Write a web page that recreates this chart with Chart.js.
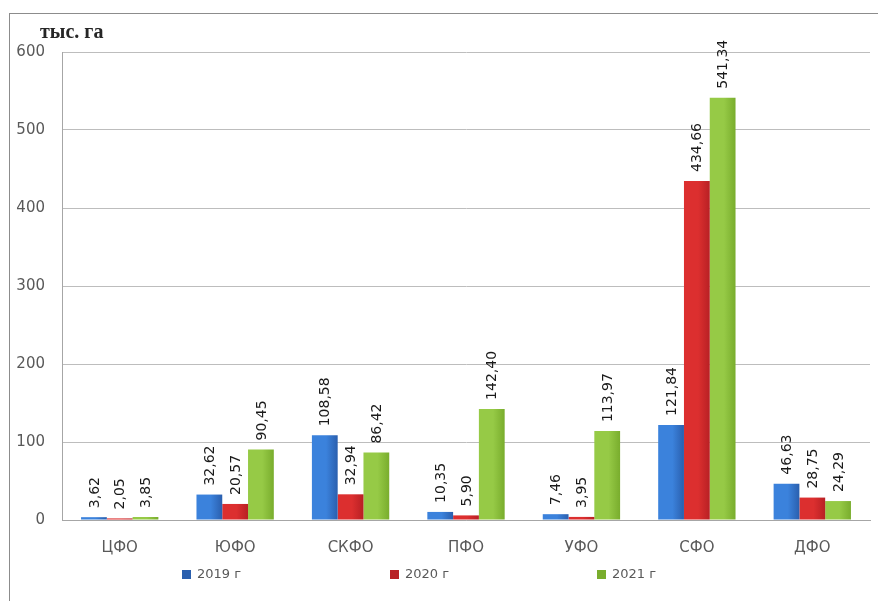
<!DOCTYPE html>
<html lang="ru">
<head>
<meta charset="utf-8">
<title>Площадь, тыс. га</title>
<script src="https://cdn.jsdelivr.net/npm/chart.js@4.4.1/dist/chart.umd.min.js"></script>
<style>
  html, body { margin: 0; padding: 0; background: #fff; overflow: hidden; }
  .frame {
    position: absolute; left: 9px; top: 13px;
    width: 869px; height: 588px;
    border-left: 1px solid #8c8c8c; border-top: 1px solid #8c8c8c;
  }
  .box { position: relative; width: 868px; height: 587px; }
</style>
</head>
<body>
<div class="frame"><div class="box"><canvas id="chart"></canvas></div></div>
<script>
// federal districts and yearly values, thousand hectares
const regions = ['ЦФО', 'ЮФО', 'СКФО', 'ПФО', 'УФО', 'СФО', 'ДФО'];
const years = ['2019 г', '2020 г', '2021 г'];
const area2019 = [3.62, 32.62, 108.58, 10.35, 7.46, 121.84, 46.63];
const area2020 = [2.05, 20.57, 32.94, 5.90, 3.95, 434.66, 28.75];
const area2021 = [3.85, 90.45, 86.42, 142.40, 113.97, 541.34, 24.29];
const yMax = 600;
const yStep = 100;
const unitLabel = 'тыс. га';

// [light edge, dark edge] for each year
const BAR_SHADES = [
  ['#3b82dc', '#2a5fae'],
  ['#dc2f2f', '#b82024'],
  ['#96ca46', '#79ad2d']
];
const TEXT = '#595959';
const CAT_PCT = 0.67;

const fmt = v => v.toFixed(2).replace('.', ',');

// horizontal gradient across each bar, computed from the category scale
function barFill(ctx) {
  const chart = ctx.chart;
  const x = chart.scales.x;
  const shades = BAR_SHADES[ctx.datasetIndex];
  if (!x || !chart.chartArea) return shades[0];
  const catW = (x.right - x.left) / regions.length;
  const barW = catW * CAT_PCT / years.length;
  const center = x.getPixelForValue(ctx.dataIndex);
  const left = center - catW * CAT_PCT / 2 + ctx.datasetIndex * barW;
  const g = chart.ctx.createLinearGradient(left, 0, left + barW, 0);
  g.addColorStop(0, shades[0]);
  g.addColorStop(0.55, shades[0]);
  g.addColorStop(1, shades[1]);
  return g;
}

const valueLabels = {
  id: 'valueLabels',
  afterDatasetsDraw(chart) {
    const c = chart.ctx;
    c.save();
    c.font = '14px "DejaVu Sans", sans-serif';
    c.fillStyle = '#1a1a1a';
    c.textAlign = 'left';
    c.textBaseline = 'middle';
    chart.data.datasets.forEach((ds, di) => {
      chart.getDatasetMeta(di).data.forEach((bar, i) => {
        c.save();
        c.translate(bar.x + 1, bar.y - 9);
        c.rotate(-Math.PI / 2);
        c.fillText(fmt(ds.data[i]), 0, 0);
        c.restore();
      });
    });
    c.restore();
  }
};

const unitTitle = {
  id: 'unitTitle',
  afterDraw(chart) {
    const c = chart.ctx;
    const a = chart.chartArea;
    c.save();
    c.font = 'bold 20px "Liberation Serif", serif';
    c.fillStyle = '#262626';
    c.textAlign = 'left';
    c.textBaseline = 'middle';
    c.fillText(unitLabel, a.left - 22, a.top - 19);
    c.restore();
  }
};

// legend row spread under the plot
const spreadLegend = {
  id: 'spreadLegend',
  afterDraw(chart) {
    const c = chart.ctx;
    const a = chart.chartArea;
    const offsets = [120, 328, 535];
    const y = a.bottom + 55;
    c.save();
    c.font = '13px "DejaVu Sans", sans-serif';
    c.textAlign = 'left';
    c.textBaseline = 'middle';
    chart.data.datasets.forEach((ds, di) => {
      const x = a.left + offsets[di];
      c.fillStyle = BAR_SHADES[di][1];
      c.fillRect(x, y - 5, 9, 9);
      c.fillStyle = TEXT;
      c.fillText(ds.label, x + 15, y);
    });
    c.restore();
  }
};

const series = [area2019, area2020, area2021];

new Chart(document.getElementById('chart'), {
  type: 'bar',
  data: {
    labels: regions,
    datasets: series.map((data, di) => ({
      label: years[di],
      data,
      backgroundColor: barFill,
      borderWidth: 0,
      categoryPercentage: CAT_PCT,
      barPercentage: 1
    }))
  },
  options: {
    responsive: true,
    maintainAspectRatio: false,
    animation: false,
    layout: { padding: { top: 38, right: 8, bottom: 25, left: 0 } },
    plugins: {
      legend: { display: false },
      tooltip: { enabled: false }
    },
    scales: {
      x: {
        grid: { display: false, drawTicks: false },
        border: { color: '#a6a6a6' },
        ticks: { color: TEXT, padding: 19, font: { family: '"DejaVu Sans", sans-serif', size: 15 } }
      },
      y: {
        min: 0,
        max: yMax,
        afterFit: s => { s.width = 52; },
        grid: { color: '#bdbdbd', drawTicks: false },
        border: { color: '#a6a6a6' },
        ticks: {
          stepSize: yStep,
          color: TEXT,
          padding: 17,
          font: { family: '"DejaVu Sans", sans-serif', size: 15 }
        }
      }
    }
  },
  plugins: [valueLabels, unitTitle, spreadLegend]
});
</script>
</body>
</html>
